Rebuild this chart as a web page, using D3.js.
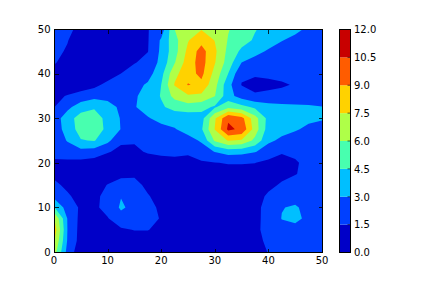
<!DOCTYPE html>
<html>
<head>
<meta charset="utf-8">
<script src="https://cdn.jsdelivr.net/npm/d3@7"></script>
<style>
  body { margin: 0; background: #fff; }
  svg { display: block; font-family: "DejaVu Sans", sans-serif; }
</style>
</head>
<body>
<div id="chart"></div>
<script>
// grid sample positions (data units)
const gridX = [0, 2.5, 5, 7.5, 10, 12.5, 15, 17.5, 20, 22.5, 25, 27.5, 30, 32.5, 35, 37.5, 40, 42.5, 45, 47.5, 50];
const gridY = [50, 47.5, 45, 42.5, 40, 37.5, 35, 32.5, 30, 27.5, 25, 22.5, 20, 17.5, 15, 12.5, 10, 7.5, 5, 2.5, 0];

// z values, one row per gridY (top row first)
const zRows = [
  [2.2, 1.8, 1.15, 0.8, 0.6, 0.6, 0.8, 1.45, 2.1, 6.0, 7.0, 7.4, 7.0, 6.1, 5.3, 4.6, 4.0, 3.6, 3.3, 2.8, 2.4],
  [2.0, 1.55, 0.9, 0.6, 0.5, 0.5, 0.7, 1.4, 3.2, 5.5, 7.4, 8.5, 7.45, 5.9, 5.1, 4.3, 3.6, 3.05, 2.7, 2.45, 2.3],
  [1.75, 1.4, 0.8, 0.5, 0.4, 0.45, 0.7, 1.45, 3.3, 5.4, 7.9, 9.6, 7.8, 5.6, 4.2, 3.4, 2.85, 2.55, 2.4, 2.3, 2.2],
  [1.6, 1.1, 0.7, 0.45, 0.4, 0.55, 1.4, 2.0, 3.4, 5.9, 8.3, 9.6, 7.6, 5.3, 3.0, 2.5, 2.3, 2.2, 2.15, 2.1, 2.05],
  [1.1, 0.9, 0.6, 0.5, 0.7, 1.5, 2.3, 2.4, 4.0, 7.1, 8.4, 9.4, 7.0, 4.5, 1.7, 1.7, 1.75, 1.85, 1.95, 2.0, 2.0],
  [1.0, 0.9, 0.8, 1.1, 1.9, 2.1, 2.5, 3.2, 4.5, 7.6, 9.1, 8.6, 6.5, 3.5, 1.45, 1.05, 1.2, 1.35, 1.6, 1.85, 2.0],
  [1.3, 1.55, 2.0, 2.5, 2.5, 2.6, 2.8, 3.6, 4.6, 6.5, 7.3, 7.2, 6.05, 3.6, 2.3, 1.7, 1.8, 1.9, 2.0, 2.1, 2.2],
  [1.45, 2.6, 3.8, 4.3, 3.6, 2.7, 2.9, 3.6, 4.3, 5.0, 5.3, 5.0, 4.3, 5.6, 5.0, 4.2, 3.6, 3.4, 3.3, 3.2, 3.05],
  [2.2, 3.8, 5.2, 5.3, 4.0, 2.9, 2.2, 2.9, 3.4, 3.6, 3.6, 3.9, 7.3, 10.3, 9.5, 6.6, 4.0, 3.6, 3.4, 3.2, 3.1],
  [2.3, 3.5, 5.2, 5.4, 4.1, 2.95, 2.3, 2.3, 2.6, 2.9, 3.6, 4.3, 7.55, 10.8, 10.2, 6.8, 3.8, 3.5, 3.1, 2.8, 2.6],
  [2.0, 3.1, 4.4, 4.6, 3.4, 1.7, 1.6, 1.8, 2.0, 2.3, 2.4, 3.2, 6.2, 7.6, 7.3, 5.6, 3.3, 2.7, 2.5, 2.4, 2.3],
  [1.9, 2.2, 2.5, 2.3, 1.6, 1.2, 1.3, 1.6, 1.8, 1.85, 1.65, 2.2, 3.05, 3.6, 3.5, 3.1, 2.2, 1.6, 1.7, 2.0, 2.1],
  [1.3, 1.2, 1.1, 0.9, 0.7, 0.6, 0.6, 1.0, 1.0, 1.1, 1.2, 1.35, 1.45, 1.6, 1.6, 1.52, 1.2, 1.1, 1.4, 1.75, 1.9],
  [1.2, 1.0, 0.9, 0.8, 0.9, 1.2, 1.3, 1.0, 0.7, 0.6, 0.6, 0.6, 0.7, 0.8, 0.8, 0.9, 1.0, 1.2, 1.45, 1.8, 2.0],
  [1.8, 1.2, 0.9, 0.9, 1.55, 2.0, 1.9, 1.2, 0.8, 0.6, 0.5, 0.5, 0.5, 0.6, 0.7, 0.9, 1.2, 1.65, 2.0, 2.1, 2.1],
  [2.6, 1.7, 1.0, 1.1, 2.0, 2.95, 2.3, 1.6, 1.0, 0.6, 0.5, 0.4, 0.4, 0.5, 0.7, 1.0, 1.7, 2.2, 2.5, 2.4, 2.3],
  [4.6, 2.3, 1.3, 1.2, 2.0, 3.2, 2.6, 2.0, 1.2, 0.7, 0.5, 0.4, 0.4, 0.5, 0.7, 1.1, 2.0, 2.95, 3.15, 2.6, 2.3],
  [7.6, 2.95, 1.05, 0.9, 1.4, 2.5, 2.3, 2.0, 1.4, 0.8, 0.5, 0.4, 0.4, 0.5, 0.7, 1.2, 1.9, 3.05, 3.3, 2.7, 2.4],
  [8.5, 3.0, 0.95, 0.7, 0.9, 1.3, 1.55, 1.55, 1.1, 0.7, 0.5, 0.4, 0.4, 0.5, 0.8, 1.3, 1.8, 2.4, 2.6, 2.4, 2.3],
  [7.7, 2.9, 0.9, 0.6, 0.6, 0.8, 0.9, 0.9, 0.8, 0.6, 0.5, 0.4, 0.4, 0.5, 0.8, 1.2, 1.7, 2.0, 2.1, 2.1, 2.1],
  [6.8, 2.5, 0.5, 0.5, 0.5, 0.5, 0.6, 0.6, 0.6, 0.5, 0.5, 0.4, 0.4, 0.5, 0.7, 1.0, 1.55, 1.9, 2.0, 2.0, 2.0]
];

const levels = [0, 1.5, 3, 4.5, 6, 7.5, 9, 10.5, 12];
const levelColors = ['#0000c8', '#0040ff', '#00bfff', '#48ffaf', '#afff48', '#ffd200', '#ff5c00', '#c80000'];
const levelLabels = ['0.0', '1.5', '3.0', '4.5', '6.0', '7.5', '9.0', '10.5', '12.0'];
const xTicks = [0, 10, 20, 30, 40, 50];
const yTicks = [0, 10, 20, 30, 40, 50];

const width = 432, height = 288;
const plot = { left: 54, right: 322, top: 29, bottom: 252 };
const cbar = { left: 339.5, right: 350.5 };

const svg = d3.select('#chart')
  .append('svg')
  .attr('width', width)
  .attr('height', height);

const x = d3.scaleLinear().domain([0, 50]).range([plot.left, plot.right]);
const y = d3.scaleLinear().domain([0, 50]).range([plot.bottom, plot.top]);

// d3.contours puts sample i at grid coordinate i + 0.5
const colToData = d3.scaleLinear().domain([0.5, gridX.length - 0.5]).range([gridX[0], gridX[gridX.length - 1]]);
const rowToData = d3.scaleLinear().domain([0.5, gridY.length - 0.5]).range([gridY[0], gridY[gridY.length - 1]]);

const projection = d3.geoTransform({
  point: function(c, r) {
    this.stream.point(x(colToData(c)), y(rowToData(r)));
  }
});
const path = d3.geoPath(projection);

const contours = d3.contours()
  .size([gridX.length, gridY.length])
  .thresholds(levels.slice(0, -1))(zRows.flat());

svg.append('clipPath')
  .attr('id', 'plot-clip')
  .append('rect')
  .attr('x', plot.left)
  .attr('y', plot.top)
  .attr('width', plot.right - plot.left + 1)
  .attr('height', plot.bottom - plot.top + 1);

// filled bands, lowest first
svg.append('g')
  .attr('clip-path', 'url(#plot-clip)')
  .selectAll('path')
  .data(contours)
  .enter()
  .append('path')
  .attr('d', path)
  .attr('fill', (d, i) => levelColors[i])
  .attr('stroke', 'none');

// frame
svg.append('rect')
  .attr('x', plot.left + 0.5)
  .attr('y', plot.top + 0.5)
  .attr('width', plot.right - plot.left)
  .attr('height', plot.bottom - plot.top)
  .attr('fill', 'none')
  .attr('stroke', '#000')
  .attr('stroke-width', 1);

// inward ticks on all four sides
const tickLen = 4;
const ticks = svg.append('g')
  .attr('stroke', '#000')
  .attr('stroke-width', 0.8)
  .attr('shape-rendering', 'crispEdges');

xTicks.forEach(t => {
  const px = Math.round(x(t)) + 0.5;
  ticks.append('line').attr('x1', px).attr('x2', px)
    .attr('y1', plot.bottom + 0.5).attr('y2', plot.bottom + 0.5 - tickLen);
  ticks.append('line').attr('x1', px).attr('x2', px)
    .attr('y1', plot.top + 0.5).attr('y2', plot.top + 0.5 + tickLen);
});
yTicks.forEach(t => {
  const py = Math.round(y(t)) + 0.5;
  ticks.append('line').attr('y1', py).attr('y2', py)
    .attr('x1', plot.left + 0.5).attr('x2', plot.left + 0.5 + tickLen);
  ticks.append('line').attr('y1', py).attr('y2', py)
    .attr('x1', plot.right + 0.5).attr('x2', plot.right + 0.5 - tickLen);
});

svg.append('g')
  .selectAll('text')
  .data(xTicks)
  .enter()
  .append('text')
  .attr('x', d => x(d))
  .attr('y', plot.bottom + 12)
  .attr('text-anchor', 'middle')
  .style('font-size', '10px')
  .text(d => d);

svg.append('g')
  .selectAll('text')
  .data(yTicks)
  .enter()
  .append('text')
  .attr('x', plot.left - 3.5)
  .attr('y', d => y(d) + 3.8)
  .attr('text-anchor', 'end')
  .style('font-size', '10px')
  .text(d => d);

// colorbar
const c = d3.scaleLinear().domain([levels[0], levels[levels.length - 1]]).range([plot.bottom + 0.5, plot.top + 0.5]);

svg.append('g')
  .selectAll('rect')
  .data(levelColors)
  .enter()
  .append('rect')
  .attr('x', cbar.left)
  .attr('width', cbar.right - cbar.left)
  .attr('y', (d, i) => c(levels[i + 1]))
  .attr('height', (d, i) => c(levels[i]) - c(levels[i + 1]))
  .attr('fill', d => d);

svg.append('rect')
  .attr('x', cbar.left)
  .attr('y', plot.top + 0.5)
  .attr('width', cbar.right - cbar.left)
  .attr('height', plot.bottom - plot.top)
  .attr('fill', 'none')
  .attr('stroke', '#000')
  .attr('stroke-width', 1);

const cticks = svg.append('g')
  .attr('stroke', '#000')
  .attr('stroke-width', 0.6);
levels.forEach(l => {
  cticks.append('line')
    .attr('x1', cbar.right).attr('x2', cbar.right - 3)
    .attr('y1', c(l)).attr('y2', c(l));
});

svg.append('g')
  .selectAll('text')
  .data(levels)
  .enter()
  .append('text')
  .attr('x', cbar.right + 3.5)
  .attr('y', d => c(d) + 3.8)
  .attr('text-anchor', 'start')
  .style('font-size', '10px')
  .text((d, i) => levelLabels[i]);
</script>
</body>
</html>
